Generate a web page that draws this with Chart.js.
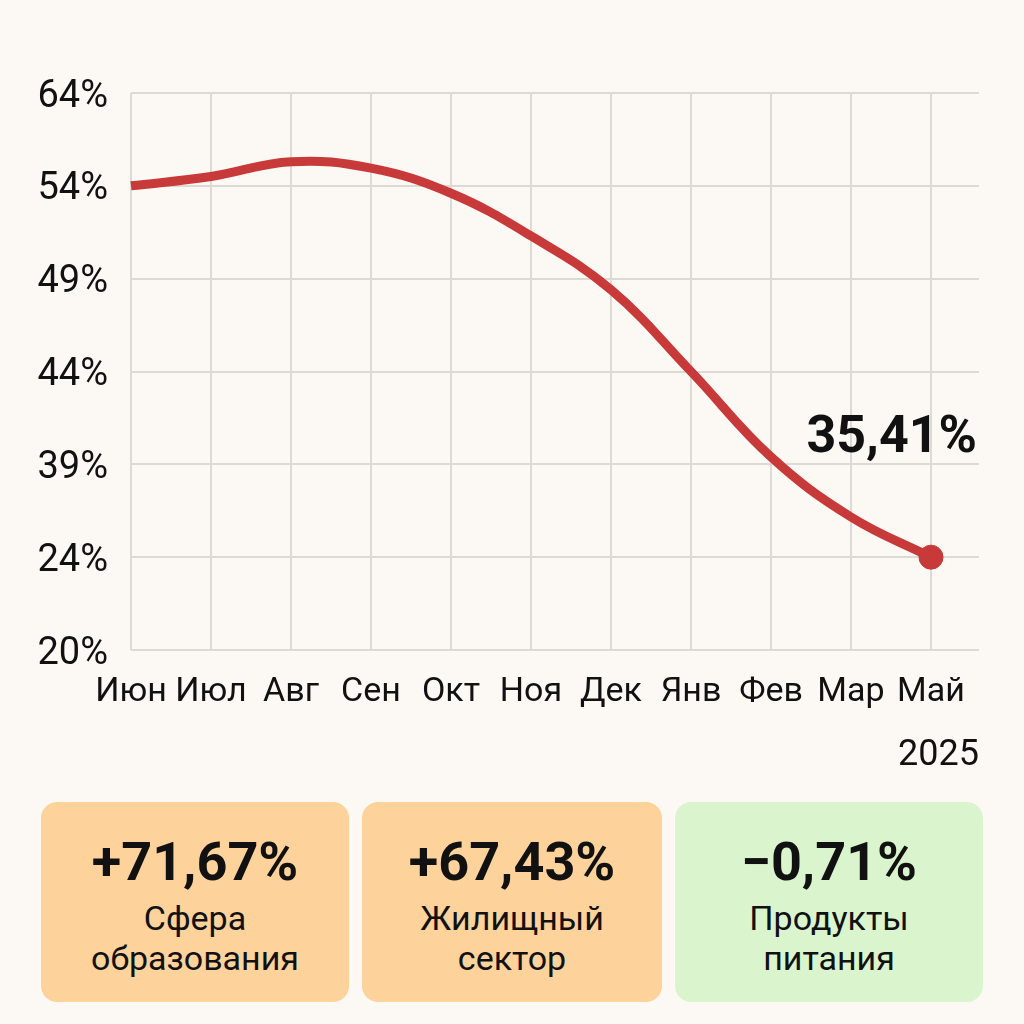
<!DOCTYPE html>
<html>
<head>
<meta charset="utf-8">
<script src="https://cdn.jsdelivr.net/npm/chart.js@4.4.1/dist/chart.umd.min.js"></script>
<style>
  html, body { margin:0; padding:0; background:#FCF9F4; }
  body { width:1024px; height:1024px; position:relative; overflow:hidden; font-family: Roboto, "Noto Sans", sans-serif; }
  #wrap { position:absolute; left:0; top:0; width:1024px; height:790px; }
  .card { position:absolute; top:802px; height:200px; border-radius:16px; text-align:center; color:#111; }
  .card .num { position:absolute; left:0; right:0; font-weight:700; font-size:54px; line-height:56px; }
  .card .lbl { position:absolute; left:0; right:0; font-size:34px; line-height:40px; }
</style>
</head>
<body>
<div id="wrap"><canvas id="c"></canvas></div>
<div id="cards"></div>
<script>
// ---- data ----
const months = ['Июн','Июл','Авг','Сен','Окт','Ноя','Дек','Янв','Фев','Мар','Май'];
const values = [54.0, 55.0, 56.6, 55.9, 53.6, 51.3, 48.4, 44.0, 39.4, 30.5, 24.0];
const yTickValues = [20, 24, 39, 44, 49, 54, 64];
const yTickLabels = ['20%','24%','39%','44%','49%','54%','64%'];
const yearLabel = '2025';
const endLabel = '35,41%';
const cardValues = ['+71,67%', '+67,43%', '−0,71%'];
const cardLabels = [['Сфера','образования'], ['Жилищный','сектор'], ['Продукты','питания']];
const cardColors = ['#FDD29B', '#FDD29B', '#DAF5CD'];

// map a percentage onto the evenly spaced (non-linear) tick positions
function toPos(v) {
  for (let i = 0; i < yTickValues.length - 1; i++) {
    const a = yTickValues[i], b = yTickValues[i + 1];
    if (v >= a && v <= b) return i + (v - a) / (b - a);
  }
  return v < yTickValues[0] ? 0 : yTickValues.length - 1;
}

const RED = '#C8393A';
const GRID = '#DDDAD5';
const FONT = 'Roboto, "Noto Sans", sans-serif';

const endLabelPlugin = {
  id: 'endLabel',
  afterDatasetsDraw(chart) {
    const meta = chart.getDatasetMeta(0);
    const last = meta.data[meta.data.length - 1];
    const ctx = chart.ctx;
    ctx.save();
    ctx.font = '700 52px ' + FONT;
    ctx.fillStyle = '#111';
    ctx.textAlign = 'right';
    ctx.textBaseline = 'alphabetic';
    ctx.fillText(endLabel, chart.chartArea.right - 2, last.y - 105);
    ctx.restore();
  }
};

new Chart(document.getElementById('c'), {
  type: 'line',
  data: {
    datasets: [{
      data: values.map((v, i) => ({ x: i, y: toPos(v) })),
      borderColor: RED,
      backgroundColor: RED,
      borderWidth: 9,
      tension: 0.4,
      fill: false,
      pointRadius: (c) => c.dataIndex === values.length - 1 ? 12 : 0,
      pointBackgroundColor: RED,
      pointBorderColor: RED,
      pointBorderWidth: 1,
      clip: false
    }]
  },
  options: {
    responsive: true,
    maintainAspectRatio: false,
    animation: false,
    devicePixelRatio: 1,
    layout: { padding: { left: 0, top: 93, right: 45, bottom: 0 } },
    plugins: { legend: { display: false }, tooltip: { enabled: false } },
    scales: {
      x: {
        type: 'linear',
        min: 0,
        max: 10.6,
        afterFit: (s) => { s.height = 140; },
        border: { display: false },
        grid: { color: GRID, lineWidth: 2, drawTicks: false },
        ticks: {
          stepSize: 1,
          includeBounds: false,
          autoSkip: false,
          maxRotation: 0,
          padding: 22,
          color: '#111',
          font: { family: FONT, size: 34 },
          callback: (v) => months[v] !== undefined ? months[v] : ''
        },
        title: {
          display: true,
          text: yearLabel,
          align: 'end',
          color: '#111',
          font: { family: FONT, size: 36 },
          padding: { top: 0, bottom: 12 }
        }
      },
      y: {
        type: 'linear',
        min: 0,
        max: yTickLabels.length - 1,
        afterFit: (s) => { s.width = 131; },
        border: { display: false },
        grid: { color: GRID, lineWidth: 2, drawTicks: false },
        ticks: {
          stepSize: 1,
          padding: 23,
          labelOffset: 4,
          color: '#111',
          font: { family: FONT, size: 38 },
          callback: (v) => yTickLabels[v] !== undefined ? yTickLabels[v] : ''
        }
      }
    }
  },
  plugins: [endLabelPlugin]
});

// ---- cards ----
const cardBoxes = [[41, 308], [362, 300], [675, 308]];
const holder = document.getElementById('cards');
cardValues.forEach((val, i) => {
  const d = document.createElement('div');
  d.className = 'card';
  d.style.left = cardBoxes[i][0] + 'px';
  d.style.width = cardBoxes[i][1] + 'px';
  d.style.background = cardColors[i];
  const n = document.createElement('div');
  n.className = 'num';
  n.style.top = '32px';
  n.textContent = val;
  d.appendChild(n);
  cardLabels[i].forEach((t, j) => {
    const l = document.createElement('div');
    l.className = 'lbl';
    l.style.top = (96 + j * 40) + 'px';
    l.textContent = t;
    d.appendChild(l);
  });
  holder.appendChild(d);
});
</script>
</body>
</html>
